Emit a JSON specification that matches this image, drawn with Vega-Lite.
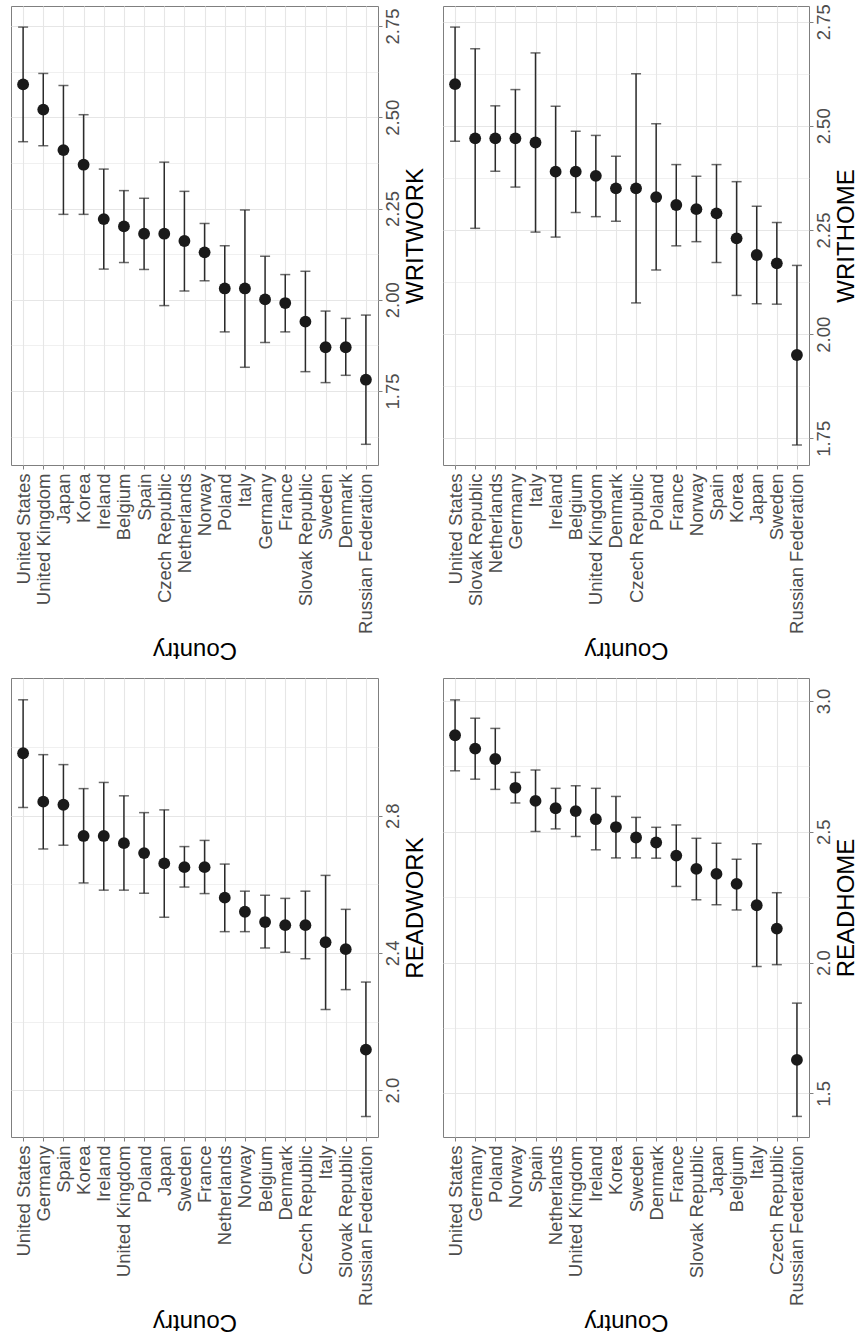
{
  "$schema": "https://vega.github.io/schema/vega-lite/v6.json",
  "background": "white",
  "padding": {"left": 10, "top": 3, "right": 0, "bottom": 0},
  "config": {
    "view": {"stroke": "#7F7F7F", "strokeWidth": 1},
    "font": "Liberation Sans",
    "axis": {
      "labelFont": "Liberation Sans",
      "titleFont": "Liberation Sans",
      "labelFontSize": 18.5,
      "labelColor": "#4D4D4D",
      "titleFontSize": 24,
      "titleFontWeight": "normal",
      "titleColor": "#000000",
      "gridColor": "#E6E6E6",
      "tickColor": "#808080",
      "tickSize": 4,
      "labelPadding": 4,
      "domain": false
    },
    "axisX": {
      "grid": true,
      "gridWidth": 1.1,
      "labelAngle": 270,
      "labelAlign": "right",
      "labelBaseline": "middle",
      "titleAngle": 180,
      "titleBaseline": "alphabetic",
      "titlePadding": 9
    },
    "axisY": {
      "labelAngle": 270,
      "labelAlign": "center",
      "labelBaseline": "top",
      "labelFlush": false,
      "labelPadding": 1,
      "titleAngle": 270,
      "titleBaseline": "top",
      "titlePadding": 2
    }
  },
  "datasets": {
    "writwork": [
      {"country": "United States", "mean": 2.590, "lower": 2.433, "upper": 2.747},
      {"country": "United Kingdom", "mean": 2.521, "lower": 2.422, "upper": 2.620},
      {"country": "Japan", "mean": 2.410, "lower": 2.234, "upper": 2.587},
      {"country": "Korea", "mean": 2.370, "lower": 2.234, "upper": 2.507},
      {"country": "Ireland", "mean": 2.221, "lower": 2.084, "upper": 2.358},
      {"country": "Belgium", "mean": 2.201, "lower": 2.102, "upper": 2.299},
      {"country": "Spain", "mean": 2.181, "lower": 2.083, "upper": 2.278},
      {"country": "Czech Republic", "mean": 2.181, "lower": 1.984, "upper": 2.377},
      {"country": "Netherlands", "mean": 2.161, "lower": 2.024, "upper": 2.297},
      {"country": "Norway", "mean": 2.130, "lower": 2.052, "upper": 2.209},
      {"country": "Poland", "mean": 2.031, "lower": 1.912, "upper": 2.148},
      {"country": "Italy", "mean": 2.031, "lower": 1.815, "upper": 2.246},
      {"country": "Germany", "mean": 2.001, "lower": 1.883, "upper": 2.119},
      {"country": "France", "mean": 1.991, "lower": 1.912, "upper": 2.069},
      {"country": "Slovak Republic", "mean": 1.940, "lower": 1.803, "upper": 2.078},
      {"country": "Sweden", "mean": 1.870, "lower": 1.773, "upper": 1.969},
      {"country": "Denmark", "mean": 1.870, "lower": 1.793, "upper": 1.949},
      {"country": "Russian Federation", "mean": 1.781, "lower": 1.604, "upper": 1.958}
    ],
    "writhome": [
      {"country": "United States", "mean": 2.600, "lower": 2.463, "upper": 2.737},
      {"country": "Slovak Republic", "mean": 2.470, "lower": 2.254, "upper": 2.685},
      {"country": "Netherlands", "mean": 2.470, "lower": 2.391, "upper": 2.548},
      {"country": "Germany", "mean": 2.470, "lower": 2.353, "upper": 2.587},
      {"country": "Italy", "mean": 2.460, "lower": 2.245, "upper": 2.675},
      {"country": "Ireland", "mean": 2.390, "lower": 2.233, "upper": 2.547},
      {"country": "Belgium", "mean": 2.390, "lower": 2.292, "upper": 2.487},
      {"country": "United Kingdom", "mean": 2.380, "lower": 2.282, "upper": 2.477},
      {"country": "Denmark", "mean": 2.350, "lower": 2.271, "upper": 2.427},
      {"country": "Czech Republic", "mean": 2.350, "lower": 2.075, "upper": 2.625},
      {"country": "Poland", "mean": 2.329, "lower": 2.154, "upper": 2.505},
      {"country": "France", "mean": 2.310, "lower": 2.212, "upper": 2.407},
      {"country": "Norway", "mean": 2.300, "lower": 2.222, "upper": 2.379},
      {"country": "Spain", "mean": 2.290, "lower": 2.172, "upper": 2.407},
      {"country": "Korea", "mean": 2.230, "lower": 2.093, "upper": 2.366},
      {"country": "Japan", "mean": 2.190, "lower": 2.073, "upper": 2.307},
      {"country": "Sweden", "mean": 2.170, "lower": 2.072, "upper": 2.268},
      {"country": "Russian Federation", "mean": 1.950, "lower": 1.734, "upper": 2.165}
    ],
    "readwork": [
      {"country": "United States", "mean": 2.982, "lower": 2.824, "upper": 3.138},
      {"country": "Germany", "mean": 2.841, "lower": 2.703, "upper": 2.978},
      {"country": "Spain", "mean": 2.832, "lower": 2.714, "upper": 2.949},
      {"country": "Korea", "mean": 2.741, "lower": 2.604, "upper": 2.879},
      {"country": "Ireland", "mean": 2.741, "lower": 2.583, "upper": 2.897},
      {"country": "United Kingdom", "mean": 2.720, "lower": 2.583, "upper": 2.858},
      {"country": "Poland", "mean": 2.691, "lower": 2.574, "upper": 2.809},
      {"country": "Japan", "mean": 2.661, "lower": 2.504, "upper": 2.817},
      {"country": "Sweden", "mean": 2.650, "lower": 2.592, "upper": 2.710},
      {"country": "France", "mean": 2.650, "lower": 2.573, "upper": 2.728},
      {"country": "Netherlands", "mean": 2.561, "lower": 2.462, "upper": 2.659},
      {"country": "Norway", "mean": 2.520, "lower": 2.462, "upper": 2.580},
      {"country": "Belgium", "mean": 2.490, "lower": 2.414, "upper": 2.568},
      {"country": "Denmark", "mean": 2.481, "lower": 2.402, "upper": 2.559},
      {"country": "Czech Republic", "mean": 2.481, "lower": 2.383, "upper": 2.580},
      {"country": "Italy", "mean": 2.431, "lower": 2.235, "upper": 2.626},
      {"country": "Slovak Republic", "mean": 2.411, "lower": 2.293, "upper": 2.527},
      {"country": "Russian Federation", "mean": 2.118, "lower": 1.923, "upper": 2.315}
    ],
    "readhome": [
      {"country": "United States", "mean": 2.869, "lower": 2.733, "upper": 3.004},
      {"country": "Germany", "mean": 2.818, "lower": 2.701, "upper": 2.934},
      {"country": "Poland", "mean": 2.778, "lower": 2.662, "upper": 2.895},
      {"country": "Norway", "mean": 2.668, "lower": 2.610, "upper": 2.727},
      {"country": "Spain", "mean": 2.618, "lower": 2.501, "upper": 2.736},
      {"country": "Netherlands", "mean": 2.590, "lower": 2.511, "upper": 2.666},
      {"country": "United Kingdom", "mean": 2.579, "lower": 2.482, "upper": 2.676},
      {"country": "Ireland", "mean": 2.548, "lower": 2.431, "upper": 2.666},
      {"country": "Korea", "mean": 2.518, "lower": 2.400, "upper": 2.635},
      {"country": "Sweden", "mean": 2.478, "lower": 2.400, "upper": 2.555},
      {"country": "Denmark", "mean": 2.459, "lower": 2.399, "upper": 2.517},
      {"country": "France", "mean": 2.409, "lower": 2.291, "upper": 2.526},
      {"country": "Slovak Republic", "mean": 2.358, "lower": 2.240, "upper": 2.475},
      {"country": "Japan", "mean": 2.339, "lower": 2.221, "upper": 2.456},
      {"country": "Belgium", "mean": 2.301, "lower": 2.201, "upper": 2.395},
      {"country": "Italy", "mean": 2.219, "lower": 1.985, "upper": 2.454},
      {"country": "Czech Republic", "mean": 2.130, "lower": 1.992, "upper": 2.267},
      {"country": "Russian Federation", "mean": 1.628, "lower": 1.412, "upper": 1.845}
    ]
  },
  "spacing": 15,
  "vconcat": [
    {
      "spacing": 14,
      "hconcat": [
        {
          "width": 367,
          "height": 459,
          "data": {"name": "writwork"},
          "encoding": {
            "x": {"field": "country", "type": "nominal", "sort": null, "title": "Country", "scale": {"type": "point", "padding": 0.6}}
          },
          "layer": [
            {
              "mark": {"type": "rule", "color": "#2B2B2B", "strokeWidth": 1.5},
              "encoding": {
                "y": {"field": "lower", "type": "quantitative", "title": "WRITWORK",
                  "scale": {"domain": [1.5473, 2.8048], "nice": false, "zero": false},
                  "axis": {"orient": "right",
                    "values": [1.625, 1.75, 1.875, 2, 2.125, 2.25, 2.375, 2.5, 2.625, 2.75],
                    "labelExpr": "indexof([1.75, 2, 2.25, 2.5, 2.75], datum.value) >= 0 ? format(datum.value, '.2f') : ''",
                    "tickOpacity": {"condition": {"test": "indexof([1.75, 2, 2.25, 2.5, 2.75], datum.value) >= 0", "value": 1}, "value": 0},
                    "gridWidth": {"condition": {"test": "indexof([1.75, 2, 2.25, 2.5, 2.75], datum.value) >= 0", "value": 1.1}, "value": 0.6}
                  }},
                "y2": {"field": "upper"}
              }
            },
            {
              "mark": {"type": "tick", "color": "#2B2B2B", "thickness": 1.5, "size": 10},
              "encoding": {"y": {"field": "upper", "type": "quantitative", "title": "WRITWORK", "scale": {"domain": [1.5473, 2.8048], "nice": false, "zero": false}}}
            },
            {
              "mark": {"type": "tick", "color": "#2B2B2B", "thickness": 1.5, "size": 10},
              "encoding": {"y": {"field": "lower", "type": "quantitative", "title": "WRITWORK", "scale": {"domain": [1.5473, 2.8048], "nice": false, "zero": false}}}
            },
            {
              "mark": {"type": "point", "filled": true, "size": 140, "color": "#1A1A1A", "opacity": 1},
              "encoding": {"y": {"field": "mean", "type": "quantitative", "title": "WRITWORK", "scale": {"domain": [1.5473, 2.8048], "nice": false, "zero": false}}}
            }
          ]
        },
        {
          "width": 366,
          "height": 459,
          "data": {"name": "writhome"},
          "encoding": {
            "x": {"field": "country", "type": "nominal", "sort": null, "title": "Country", "scale": {"type": "point", "padding": 0.6}}
          },
          "layer": [
            {
              "mark": {"type": "rule", "color": "#2B2B2B", "strokeWidth": 1.5},
              "encoding": {
                "y": {"field": "lower", "type": "quantitative", "title": "WRITHOME",
                  "scale": {"domain": [1.686, 2.7876], "nice": false, "zero": false},
                  "axis": {"orient": "right",
                    "values": [1.75, 1.875, 2, 2.125, 2.25, 2.375, 2.5, 2.625, 2.75],
                    "labelExpr": "indexof([1.75, 2, 2.25, 2.5, 2.75], datum.value) >= 0 ? format(datum.value, '.2f') : ''",
                    "tickOpacity": {"condition": {"test": "indexof([1.75, 2, 2.25, 2.5, 2.75], datum.value) >= 0", "value": 1}, "value": 0},
                    "gridWidth": {"condition": {"test": "indexof([1.75, 2, 2.25, 2.5, 2.75], datum.value) >= 0", "value": 1.1}, "value": 0.6}
                  }},
                "y2": {"field": "upper"}
              }
            },
            {
              "mark": {"type": "tick", "color": "#2B2B2B", "thickness": 1.5, "size": 10},
              "encoding": {"y": {"field": "upper", "type": "quantitative", "title": "WRITHOME", "scale": {"domain": [1.686, 2.7876], "nice": false, "zero": false}}}
            },
            {
              "mark": {"type": "tick", "color": "#2B2B2B", "thickness": 1.5, "size": 10},
              "encoding": {"y": {"field": "lower", "type": "quantitative", "title": "WRITHOME", "scale": {"domain": [1.686, 2.7876], "nice": false, "zero": false}}}
            },
            {
              "mark": {"type": "point", "filled": true, "size": 140, "color": "#1A1A1A", "opacity": 1},
              "encoding": {"y": {"field": "mean", "type": "quantitative", "title": "WRITHOME", "scale": {"domain": [1.686, 2.7876], "nice": false, "zero": false}}}
            }
          ]
        }
      ]
    },
    {
      "spacing": 14,
      "hconcat": [
        {
          "width": 367,
          "height": 459,
          "data": {"name": "readwork"},
          "encoding": {
            "x": {"field": "country", "type": "nominal", "sort": null, "title": "Country", "scale": {"type": "point", "padding": 0.6}}
          },
          "layer": [
            {
              "mark": {"type": "rule", "color": "#2B2B2B", "strokeWidth": 1.5},
              "encoding": {
                "y": {"field": "lower", "type": "quantitative", "title": "READWORK",
                  "scale": {"domain": [1.8633, 3.2015], "nice": false, "zero": false},
                  "axis": {"orient": "right",
                    "values": [2, 2.2, 2.4, 2.6, 2.8, 3],
                    "labelExpr": "indexof([2, 2.4, 2.8], datum.value) >= 0 ? format(datum.value, '.1f') : ''",
                    "tickOpacity": {"condition": {"test": "indexof([2, 2.4, 2.8], datum.value) >= 0", "value": 1}, "value": 0},
                    "gridWidth": {"condition": {"test": "indexof([2, 2.4, 2.8], datum.value) >= 0", "value": 1.1}, "value": 0.6}
                  }},
                "y2": {"field": "upper"}
              }
            },
            {
              "mark": {"type": "tick", "color": "#2B2B2B", "thickness": 1.5, "size": 10},
              "encoding": {"y": {"field": "upper", "type": "quantitative", "title": "READWORK", "scale": {"domain": [1.8633, 3.2015], "nice": false, "zero": false}}}
            },
            {
              "mark": {"type": "tick", "color": "#2B2B2B", "thickness": 1.5, "size": 10},
              "encoding": {"y": {"field": "lower", "type": "quantitative", "title": "READWORK", "scale": {"domain": [1.8633, 3.2015], "nice": false, "zero": false}}}
            },
            {
              "mark": {"type": "point", "filled": true, "size": 140, "color": "#1A1A1A", "opacity": 1},
              "encoding": {"y": {"field": "mean", "type": "quantitative", "title": "READWORK", "scale": {"domain": [1.8633, 3.2015], "nice": false, "zero": false}}}
            }
          ]
        },
        {
          "width": 366,
          "height": 459,
          "data": {"name": "readhome"},
          "encoding": {
            "x": {"field": "country", "type": "nominal", "sort": null, "title": "Country", "scale": {"type": "point", "padding": 0.6}}
          },
          "layer": [
            {
              "mark": {"type": "rule", "color": "#2B2B2B", "strokeWidth": 1.5},
              "encoding": {
                "y": {"field": "lower", "type": "quantitative", "title": "READHOME",
                  "scale": {"domain": [1.3333, 3.0877], "nice": false, "zero": false},
                  "axis": {"orient": "right",
                    "values": [1.5, 1.75, 2, 2.25, 2.5, 2.75, 3],
                    "labelExpr": "indexof([1.5, 2, 2.5, 3], datum.value) >= 0 ? format(datum.value, '.1f') : ''",
                    "tickOpacity": {"condition": {"test": "indexof([1.5, 2, 2.5, 3], datum.value) >= 0", "value": 1}, "value": 0},
                    "gridWidth": {"condition": {"test": "indexof([1.5, 2, 2.5, 3], datum.value) >= 0", "value": 1.1}, "value": 0.6}
                  }},
                "y2": {"field": "upper"}
              }
            },
            {
              "mark": {"type": "tick", "color": "#2B2B2B", "thickness": 1.5, "size": 10},
              "encoding": {"y": {"field": "upper", "type": "quantitative", "title": "READHOME", "scale": {"domain": [1.3333, 3.0877], "nice": false, "zero": false}}}
            },
            {
              "mark": {"type": "tick", "color": "#2B2B2B", "thickness": 1.5, "size": 10},
              "encoding": {"y": {"field": "lower", "type": "quantitative", "title": "READHOME", "scale": {"domain": [1.3333, 3.0877], "nice": false, "zero": false}}}
            },
            {
              "mark": {"type": "point", "filled": true, "size": 140, "color": "#1A1A1A", "opacity": 1},
              "encoding": {"y": {"field": "mean", "type": "quantitative", "title": "READHOME", "scale": {"domain": [1.3333, 3.0877], "nice": false, "zero": false}}}
            }
          ]
        }
      ]
    }
  ]
}
